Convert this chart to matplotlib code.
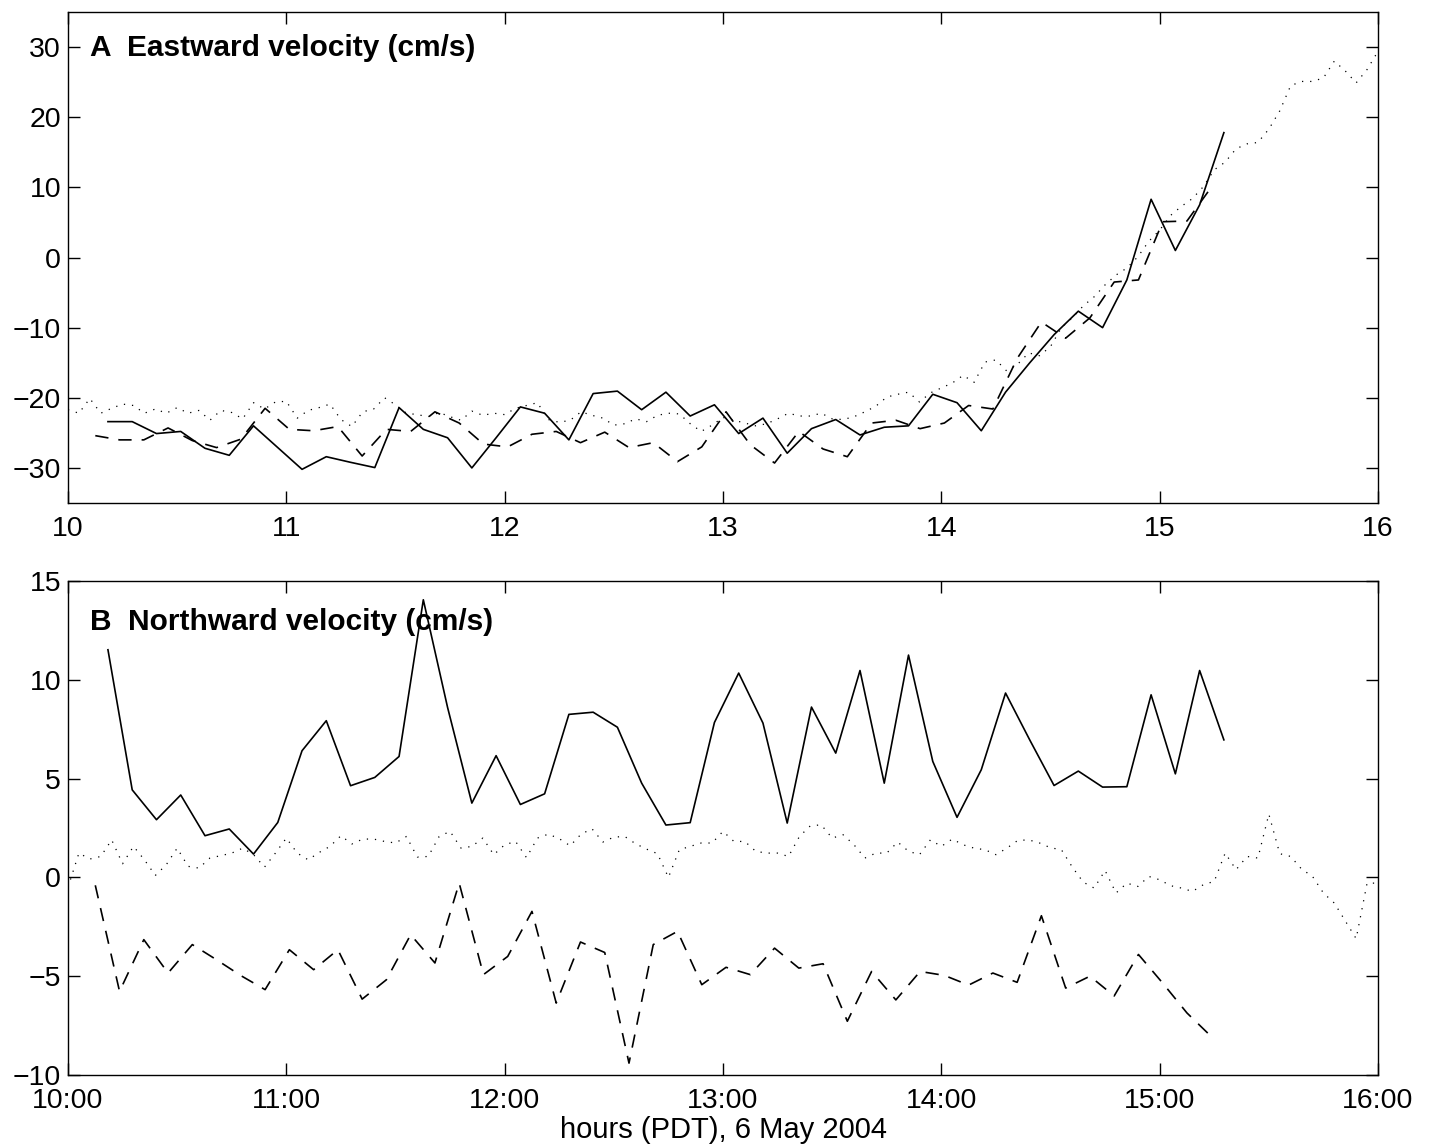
import numpy as np
import matplotlib
matplotlib.use("Agg")
import matplotlib.pyplot as plt

plt.rcParams['font.family'] = ['Liberation Sans', 'DejaVu Sans']

# sampling: profiler casts every 400 s, dotted record every 3 min (hours, PDT)
solid_start = 10.183
dashed_start = 10.125
cast_step = 400.0 / 3600.0
dotted_start = 10.0
dotted_step = 0.05

# A: eastward velocity (cm/s)
east_solid = [-23.4, -23.4, -25.1, -24.8, -27.2, -28.2, -24.0, -27.1, -30.2, -28.4,
              -29.2, -29.95, -21.4, -24.5, -25.7, -30.0, -25.7, -21.3, -22.2, -26.0,
              -19.4, -19.05, -21.7, -19.2, -22.6, -21.0, -25.1, -22.9, -27.9, -24.4,
              -23.1, -25.3, -24.2, -24.0, -19.5, -20.7, -24.7, -19.2, -15.0, -11.0,
              -7.65, -10.0, -3.2, 8.3, 1.0, 7.5, 17.8]
east_dashed = [-25.4, -26.0, -26.0, -24.3, -26.1, -27.1, -25.9, -21.5, -24.5, -24.7,
               -24.1, -28.3, -24.5, -24.8, -22.0, -23.6, -26.6, -27.0, -25.2, -24.8,
               -26.4, -24.9, -27.1, -26.4, -29.1, -27.0, -22.0, -26.7, -29.3, -24.8,
               -27.3, -28.4, -23.6, -23.2, -24.4, -23.6, -21.1, -21.6, -14.4, -9.2,
               -11.5, -8.6, -3.5, -3.2, 5.1, 5.2, 10.0]
east_dotted = [-21.7, -22.2, -20.1, -22.2, -21.5, -20.9, -21.1, -22.2, -21.6, -22.2,
               -21.4, -22.2, -21.8, -23.2, -21.8, -22.1, -23.0, -20.7, -21.6, -20.6,
               -20.5, -22.9, -21.8, -21.4, -20.9, -23.1, -24.1, -22.0, -21.6, -20.0,
               -21.0, -22.2, -22.4, -22.7, -22.1, -22.7, -23.2, -21.9, -22.5, -22.2,
               -22.4, -21.5, -21.1, -20.7, -23.1, -23.5, -23.2, -22.0, -22.5, -22.9,
               -23.9, -23.7, -23.0, -23.4, -22.5, -22.2, -22.3, -23.7, -24.8, -23.9,
               -22.8, -23.2, -23.6, -24.0, -23.7, -23.0, -22.2, -22.6, -22.6, -22.2,
               -23.0, -23.1, -22.7, -22.0, -21.2, -19.9, -19.5, -19.2, -20.6, -19.3,
               -18.6, -17.9, -16.8, -17.8, -14.9, -14.6, -16.2, -15.2, -13.6, -14.0,
               -12.7, -10.0, -8.6, -6.9, -5.6, -3.9, -2.5, -1.5, 0.1, 2.3,
               3.9, 6.0, 7.3, 8.4, 10.1, 12.5, 13.6, 15.5, 16.2, 16.4,
               18.3, 20.9, 24.5, 25.1, 25.1, 25.6, 28.0, 26.6, 24.9, 26.8, 29.4]

# B: northward velocity (cm/s)
north_solid = [11.52, 4.43, 2.92, 4.17, 2.11, 2.45, 1.18, 2.78, 6.41, 7.93,
               4.64, 5.06, 6.12, 14.05, 8.6, 3.76, 6.16, 3.69, 4.23, 8.25,
               8.36, 7.6, 4.77, 2.65, 2.77, 7.84, 10.34, 7.81, 2.75, 8.62,
               6.29, 10.47, 4.77, 11.25, 5.87, 3.04, 5.45, 9.33, 6.95, 4.65,
               5.38, 4.57, 4.59, 9.24, 5.24, 10.47, 6.96]
north_dashed = [-0.4, -5.77, -3.15, -4.84, -3.4, -4.17, -4.97, -5.68, -3.66, -4.67,
                -3.66, -6.16, -5.18, -2.9, -4.33, -0.29, -4.92, -4.0, -1.72, -6.36,
                -3.27, -3.8, -9.4, -3.4, -2.73, -5.43, -4.55, -4.92, -3.58, -4.59,
                -4.37, -7.28, -4.76, -6.2, -4.76, -4.96, -5.45, -4.84, -5.31, -1.94,
                -5.6, -5.0, -6.0, -3.9, -5.35, -6.86, -8.05]
north_dotted = [-0.5, 1.23, 0.93, 1.06, 1.9, 0.69, 1.57, 0.89, 0.1, 0.64,
                1.48, 0.56, 0.47, 0.98, 1.1, 1.23, 1.48, 1.15, 0.52, 1.23,
                1.99, 1.23, 0.89, 1.26, 1.57, 2.11, 1.69, 1.94, 1.94, 1.82,
                1.74, 2.07, 1.03, 1.06, 2.07, 2.33, 1.48, 1.57, 1.99, 1.15,
                1.65, 1.82, 1.0, 1.99, 2.19, 1.96, 1.6, 2.19, 2.46, 1.79,
                2.04, 2.07, 1.7, 1.43, 1.2, 0.0, 1.4, 1.57, 1.74, 1.74,
                2.33, 1.82, 1.82, 1.32, 1.23, 1.23, 1.06, 2.07, 2.61, 2.66,
                1.99, 2.16, 1.65, 0.98, 1.23, 1.23, 1.79, 1.32, 1.15, 1.9,
                1.57, 1.94, 1.65, 1.48, 1.4, 1.15, 1.48, 1.87, 1.9, 1.74,
                1.5, 1.4, 0.52, -0.24, -0.54, 0.35, -0.79, -0.29, -0.46, 0.05,
                -0.12, -0.42, -0.54, -0.71, -0.37, -0.2, 1.23, 0.39, 1.06, 0.98,
                3.2, 1.2, 1.06, 0.42, 0.05, -0.79, -1.3, -2.2, -3.1, -0.29, -0.29]

hour_ticks = [10, 11, 12, 13, 14, 15, 16]
top_xlabels = ["10", "11", "12", "13", "14", "15", "16"]
bottom_xlabels = ["10:00", "11:00", "12:00", "13:00", "14:00", "15:00", "16:00"]
top_yticks = [-30, -20, -10, 0, 10, 20, 30]
bottom_yticks = [-10, -5, 0, 5, 10, 15]

FS = 20.5


def times(start, step, n):
    return start + step * np.arange(n)


def draw_panel(ax, solid, dashed, dotted):
    ax.plot(times(dotted_start, dotted_step, len(dotted)), dotted,
            color="black", lw=0.9, linestyle=(0, (1, 5.5)))
    ax.plot(times(dashed_start, cast_step, len(dashed)), dashed,
            color="black", lw=1.2, linestyle=(0, (8, 6)))
    ax.plot(times(solid_start, cast_step, len(solid)), solid,
            color="black", lw=1.2, linestyle="-")
    ax.set_xlim(10, 16)
    ax.set_xticks(hour_ticks)
    ax.tick_params(direction="in", length=8.5, width=1.0, top=True, right=True,
                   labelsize=FS, colors="black")
    ax.tick_params(axis="y", pad=5)
    ax.tick_params(axis="x", pad=9.5)
    for s in ax.spines.values():
        s.set_linewidth(1.0)


fig = plt.figure(figsize=(14.33, 11.47), dpi=100)
ax1 = fig.add_axes([68 / 1433, 1 - 503 / 1147, 1310 / 1433, 491 / 1147])
ax2 = fig.add_axes([68 / 1433, 1 - 1075 / 1147, 1310 / 1433, 494 / 1147])

draw_panel(ax1, east_solid, east_dashed, east_dotted)
ax1.set_ylim(-35, 35)
ax1.set_yticks(top_yticks)
ax1.set_xticklabels(top_xlabels)
ax1.text(0.017, 0.927, "A  Eastward velocity (cm/s)", transform=ax1.transAxes,
         fontsize=21.5, fontweight="bold", va="center", ha="left")

draw_panel(ax2, north_solid, north_dashed, north_dotted)
ax2.set_ylim(-10, 15)
ax2.set_yticks(bottom_yticks)
ax2.set_xticklabels(bottom_xlabels)
ax2.text(0.017, 0.917, "B  Northward velocity (cm/s)", transform=ax2.transAxes,
         fontsize=21.5, fontweight="bold", va="center", ha="left")
ax2.set_xlabel("hours (PDT), 6 May 2004", fontsize=21, labelpad=1)

fig.savefig("out.png", dpi=100)
